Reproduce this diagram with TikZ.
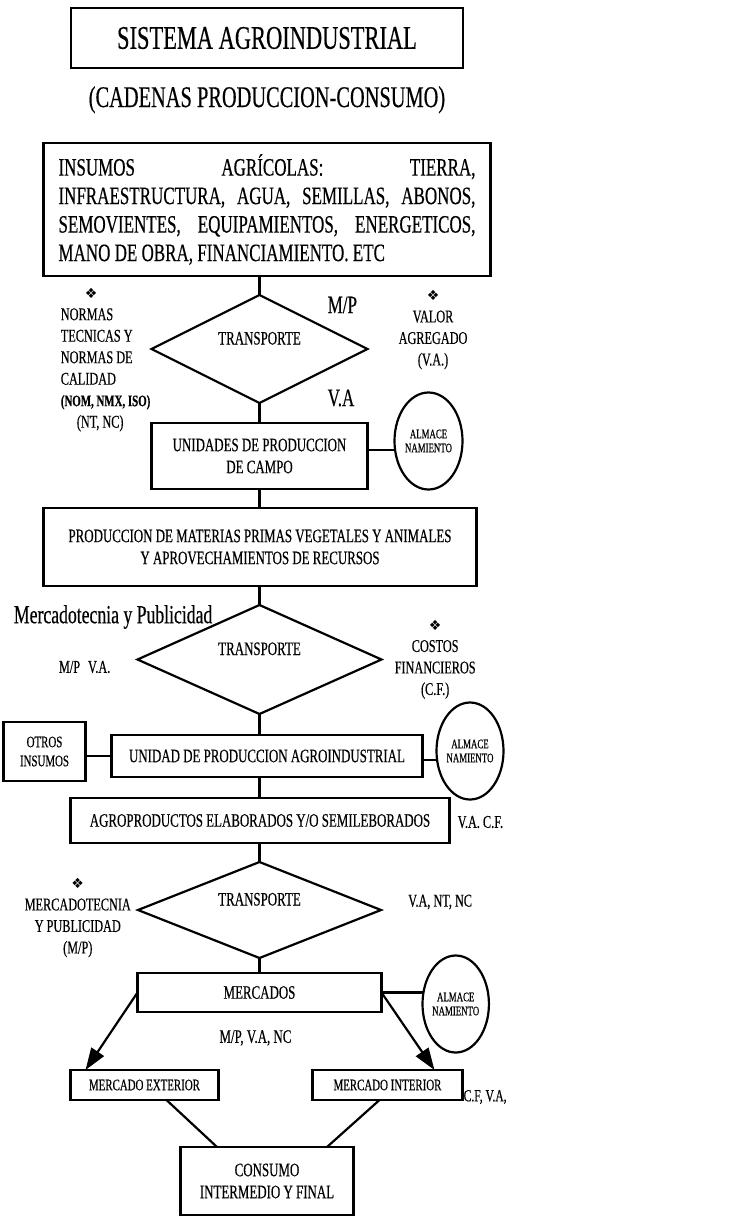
\documentclass[tikz,border=0pt]{standalone}
\usepackage{fontspec}
\setmainfont{Liberation Serif}[FakeStretch=0.68, FakeBold=0.4]
\newfontfamily\dingfont{DejaVu Sans}
\usetikzlibrary{positioning, arrows.meta, shapes.geometric}
\newcommand{\fsz}[2]{\fontsize{#1pt}{#2pt}\selectfont}
\newcommand{\dmark}{{\dingfont\fsz{14}{14}❖}}
\tolerance=10000
\hbadness=10000

\begin{document}
\begin{tikzpicture}[
      x=1pt, y=1pt,
      % Styling nodes
      base/.style={
        draw,
        rectangle,
        line width=2.2pt,
        outer sep=0pt,
        align=center,
        inner sep=2pt,
        font=\fsz{19}{22}
      },
      decision/.style={draw, diamond, aspect=2, line width=2.2pt, inner sep=0pt, outer sep=0pt,
        font=\fsz{19}{22}, text height=13pt, text depth=22pt},
      store/.style={draw, ellipse, line width=2.2pt, inner sep=0pt, outer sep=0pt, align=center,
        minimum width=67pt, minimum height=97pt, font=\fsz{13}{14}},
      note/.style={inner sep=0pt, align=center, font=\fsz{18}{21.5}},
      bignote/.style={inner sep=0pt, font=\fsz{25}{28}},
      line/.style={line width=2.2pt},
      arrow/.style={line, -{Triangle[length=22pt, width=15pt]}}
    ]
    \useasboundingbox (0,0) rectangle (746,-1217);

    % Main column
    \node (title) [base, font=\fsz{33}{36}, minimum width=392pt, minimum height=60pt] at (267,-38) {SISTEMA AGROINDUSTRIAL};
    \node (subtitle) [inner sep=0pt, font=\fsz{30}{32}, below=18pt of title] {(CADENAS PRODUCCION-CONSUMO)};
    \node (insumos) [base, font=\fsz{25}{28.5}, text width=417pt, align=justify, inner xsep=15pt, inner ysep=10pt,
      minimum height=133pt, below=75pt of title]
      {INSUMOS AGRÍCOLAS: TIERRA,\linebreak INFRAESTRUCTURA, AGUA, SEMILLAS, ABONOS,\linebreak SEMOVIENTES, EQUIPAMIENTOS, ENERGETICOS,\linebreak MANO DE OBRA, FINANCIAMIENTO. ETC};
    \node (d1) [decision, minimum width=216pt, minimum height=108pt, below=19pt of insumos, xshift=-7.5pt] {TRANSPORTE};
    \node (campo) [base, minimum width=216pt, minimum height=66pt, below=20pt of d1] {UNIDADES DE PRODUCCION\\DE CAMPO};
    \node (materias) [base, minimum width=433pt, minimum height=78pt, below=19pt of campo, xshift=0.5pt]
      {PRODUCCION DE MATERIAS PRIMAS VEGETALES Y ANIMALES\\Y APROVECHAMIENTOS DE RECURSOS};
    \node (d2) [decision, minimum width=244pt, minimum height=109pt, below=19pt of materias, xshift=-0.5pt] {TRANSPORTE};
    \node (agroind) [base, minimum width=311pt, minimum height=42pt, below=21pt of d2, xshift=7.5pt] {UNIDAD DE PRODUCCION AGROINDUSTRIAL};
    \node (agroprod) [base, minimum width=379pt, minimum height=45pt, below=21pt of agroind, xshift=-7pt] {AGROPRODUCTOS ELABORADOS Y/O SEMILEBORADOS};
    \node (d3) [decision, minimum width=243pt, minimum height=96pt, below=19pt of agroprod, xshift=-0.5pt] {TRANSPORTE};
    \node (mercados) [base, minimum width=244pt, minimum height=39pt, below=15pt of d3] {MERCADOS};
    \node (exterior) [base, font=\fsz{16}{18}, minimum width=148pt, minimum height=30pt, below=58pt of mercados, xshift=-115pt] {MERCADO EXTERIOR};
    \node (interior) [base, font=\fsz{16}{18}, minimum width=150pt, minimum height=30pt, below=58pt of mercados, xshift=128pt] {MERCADO INTERIOR};
    \node (consumo) [base, minimum width=173pt, minimum height=68pt, below=135pt of mercados, xshift=7.5pt] {CONSUMO\\INTERMEDIO Y FINAL};

    % Side boxes and storage
    \node (store1) [store, minimum width=68pt, right=27pt of campo, yshift=15pt] {ALMACE\\NAMIENTO};
    \node (otros) [base, font=\fsz{16}{19}, minimum width=82pt, minimum height=59pt, left=26pt of agroind, yshift=4.5pt] {OTROS\\INSUMOS};
    \node (store2) [store, right=14pt of agroind, yshift=5pt] {ALMACE\\NAMIENTO};
    \node (store3) [store, minimum width=65pt, right=41pt of mercados, yshift=-11.5pt] {ALMACE\\NAMIENTO};

    % Side labels
    \node (mp1) [bignote, right=68pt of d1.north, yshift=-10pt] {M/P};
    \node (va1) [bignote, right=68pt of d1.south, yshift=5pt] {V.A};
    \node (normas) [note, align=left, left=1pt of d1.west, yshift=-11pt]
      {\hspace*{24pt}\dmark\\NORMAS\\TECNICAS Y\\NORMAS DE\\CALIDAD\\{\fsz{16}{21.5}\bfseries (NOM, NMX, ISO)}\\\hspace*{16pt}(NT, NC)};
    \node (valor) [note, right=31pt of d1.east, yshift=19pt] {\dmark\\VALOR\\AGREGADO\\(V.A.)};
    \node (mercpub) [inner sep=0pt, font=\fsz{26}{28}, left=47pt of d2.north, yshift=-12pt] {Mercadotecnia y Publicidad};
    \node (mpva1) [note, left=27pt of d2.west, yshift=-7.5pt] {M/P\hspace{8pt}V.A.};
    \node (costos) [note, right=13pt of d2.east] {\dmark\\COSTOS\\FINANCIEROS\\(C.F.)};
    \node (vacf1) [note, right=8pt of agroprod, yshift=-1.5pt] {V.A. C.F.};
    \node (mercpub2) [note, left=7pt of d3.west, yshift=-8pt] {\dmark\\MERCADOTECNIA\\Y PUBLICIDAD\\(M/P)};
    \node (vantnc) [note, right=27pt of d3.east, yshift=8pt] {V.A, NT, NC};
    \node (mpvanc) [note, font=\fsz{19}{22}, below=18pt of mercados.south, xshift=-4pt] {M/P, V.A, NC};
    \node (cfva) [note, font=\fsz{17}{20}, right=1pt of interior.east, yshift=-12pt] {C.F, V.A,};

    % Connectors down the chain
    \draw[line] (insumos.south -| d1.north) -- (d1.north);
    \draw[line] (d1.south) -- (d1.south |- campo.north);
    \draw[line] (campo.south) -- (campo.south |- materias.north);
    \draw[line] (materias.south -| d2.north) -- (d2.north);
    \draw[line] (d2.south) -- (d2.south |- agroind.north);
    \draw[line] (agroind.south -| d3.north) -- (agroprod.north -| d3.north);
    \draw[line] (agroprod.south -| d3.north) -- (d3.north);
    \draw[line] (d3.south) -- (d3.south |- mercados.north);

    % Side links
    \draw[line] (store1.195 -| campo.east) -- (store1.195);
    \draw[line] (agroind.west) -- (agroind.west -| otros.east);
    \draw[line] (store2.195 -| agroind.east) -- (store2.195);
    \draw[line] (mercados.east) -- (mercados.east -| store3.west);

    % Markets to consumption
    \draw[arrow] (mercados.west) -- ([xshift=15pt]exterior.north west);
    \draw[arrow] (mercados.east) -- ([xshift=-28pt]interior.north east);
    \draw[line] ([xshift=22pt]exterior.south) -- ([xshift=-50pt]consumo.north);
    \draw[line] ([xshift=-8pt]interior.south) -- ([xshift=60pt]consumo.north);

  \end{tikzpicture}
\end{document}
